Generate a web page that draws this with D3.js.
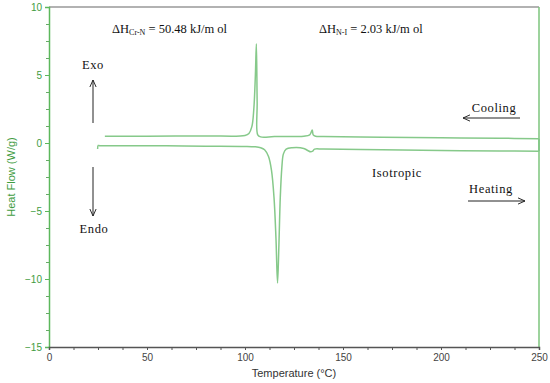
<!DOCTYPE html>
<html>
<head>
<meta charset="utf-8">
<script src="https://cdn.jsdelivr.net/npm/d3@7"></script>
<style>
  body { margin: 0; background: #fff; }
  svg text { font-family: "Liberation Sans", Arial, sans-serif; }
  .note { font-family: "Liberation Serif", "Times New Roman", serif; fill: #111; }
</style>
</head>
<body>
<svg width="550" height="383"></svg>
<script>
// heating run (25 -> 250 C)
const heatT = [24.8, 25.1, 26, 40, 60, 80, 100, 105, 108, 110, 112, 113.5, 114.8, 115.8, 116.6, 117.3, 118, 118.8, 119.6, 121, 124, 130, 132, 133.5, 134.5, 135.5, 140, 170, 200, 230, 250];
const heatQ = [-0.45, -0.18, -0.2, -0.2, -0.21, -0.23, -0.25, -0.28, -0.35, -0.5, -1.0, -2.0, -4.0, -7.0, -10.3, -7.5, -4.0, -1.8, -0.8, -0.45, -0.35, -0.4, -0.55, -0.65, -0.6, -0.45, -0.45, -0.5, -0.55, -0.58, -0.6];
// cooling run (250 -> 28 C)
const coolT = [250, 230, 200, 170, 140, 136, 134.8, 134.3, 133, 130, 115, 108, 106.5, 106.2, 105.8, 105.3, 104.5, 103.5, 102, 100, 80, 50, 28.5];
const coolQ = [0.32, 0.35, 0.38, 0.42, 0.48, 0.5, 0.6, 0.95, 0.6, 0.5, 0.47, 0.45, 0.6, 3.0, 7.3, 5.0, 2.5, 1.2, 0.7, 0.55, 0.52, 0.5, 0.49];

const xTicks = [0, 50, 100, 150, 200, 250];
const yTicks = [-15, -10, -5, 0, 5, 10];

const svg = d3.select("svg");
const m = { left: 49, right: 11, top: 7, bottom: 36 };
const W = 550, H = 383;

const x = d3.scaleLinear().domain([0, 250]).range([m.left, W - m.right]);
const y = d3.scaleLinear().domain([-15, 10]).range([H - m.bottom, m.top]);

const green = "#3f9c3f";
const traceColor = "#86c98a";

// frame: top grey, right green
svg.append("line").attr("x1", x(0)).attr("x2", x(250)).attr("y1", y(10)).attr("y2", y(10))
    .attr("stroke", "#999").attr("stroke-width", 1.5);
svg.append("line").attr("x1", x(250)).attr("x2", x(250)).attr("y1", y(10)).attr("y2", y(-15))
    .attr("stroke", "#7cc47c").attr("stroke-width", 1.5);

// y axis, major + minor ticks
const yAxis = svg.append("g").attr("transform", `translate(${x(0)},0)`)
    .call(d3.axisLeft(y).tickValues(yTicks).tickSize(4).tickPadding(3).tickFormat(d3.format("d")));
svg.append("g").attr("transform", `translate(${x(0)},0)`)
    .call(d3.axisLeft(y).tickValues(d3.range(-15, 10.01, 1.25).filter(v => v % 5 !== 0)).tickSize(3).tickFormat(""))
    .call(g => g.select(".domain").remove())
    .selectAll("line").attr("stroke", "#6a6");
yAxis.select(".domain").attr("stroke", "#5cb85c").attr("stroke-width", 1.5);
yAxis.selectAll("line").attr("stroke", "#5cb85c");
yAxis.selectAll("text").attr("fill", green).attr("font-size", 10);

// x axis
const xAxis = svg.append("g").attr("transform", `translate(0,${y(-15)})`)
    .call(d3.axisBottom(x).tickValues(xTicks).tickSize(3).tickPadding(4));
svg.append("g").attr("transform", `translate(0,${y(-15)})`)
    .call(d3.axisBottom(x).tickValues(d3.range(0, 250.01, 12.5).filter(v => v % 50 !== 0)).tickSize(3).tickFormat(""))
    .call(g => g.select(".domain").remove())
    .selectAll("line").attr("stroke", "#555");
xAxis.select(".domain").attr("stroke", "#555").attr("stroke-width", 1.5);
xAxis.selectAll("line").attr("stroke", "#555");
xAxis.selectAll("text").attr("fill", "#444").attr("font-size", 10);

svg.append("text").attr("x", x(125)).attr("y", 377).attr("text-anchor", "middle")
    .attr("font-size", 11).attr("fill", "#333").text("Temperature (°C)");
svg.append("text").attr("transform", `translate(15,${y(-2.5)}) rotate(-90)`).attr("text-anchor", "middle")
    .attr("font-size", 11).attr("fill", green).text("Heat Flow (W/g)");

// DSC traces
const curve = d3.line().x(d => x(d[0])).y(d => y(d[1])).curve(d3.curveCatmullRom.alpha(0.5));
svg.append("path").datum(heatT.map((t, i) => [t, heatQ[i]]))
    .attr("d", curve)
    .attr("fill", "none").attr("stroke", traceColor).attr("stroke-width", 1.5);
svg.append("path").datum(coolT.map((t, i) => [t, coolQ[i]]))
    .attr("d", curve)
    .attr("fill", "none").attr("stroke", traceColor).attr("stroke-width", 1.5);
// turn-around at 250 C joins heating to cooling
svg.append("line").attr("x1", x(250)).attr("x2", x(250))
    .attr("y1", y(coolQ[0])).attr("y2", y(heatQ[heatQ.length - 1]))
    .attr("stroke", traceColor).attr("stroke-width", 2);

// annotations
function dH(xp, yp, sub, rest) {
  const t = svg.append("text").attr("class", "note").attr("x", xp).attr("y", yp).attr("font-size", 12.5);
  t.append("tspan").text("ΔH");
  t.append("tspan").attr("font-size", 8).attr("dy", 2).text(sub);
  t.append("tspan").attr("dy", -2).text(rest);
}
dH(112, 33, "Cr-N", " = 50.48 kJ/m ol");
dH(319, 33, "N-I", " = 2.03 kJ/m ol");

svg.append("defs").append("marker").attr("id", "ah").attr("viewBox", "0 0 10 10")
    .attr("refX", 9).attr("refY", 5).attr("markerWidth", 8).attr("markerHeight", 8).attr("orient", "auto")
  .append("path").attr("d", "M0,1 L9,5 L0,9").attr("fill", "none").attr("stroke", "#222").attr("stroke-width", 1.2);

function arrow(x1, y1, x2, y2) {
  svg.append("line").attr("x1", x1).attr("y1", y1).attr("x2", x2).attr("y2", y2)
    .attr("stroke", "#222").attr("stroke-width", 1).attr("marker-end", "url(#ah)");
}
arrow(93, 123, 93, 80);
arrow(93, 167, 93, 216);
arrow(520, 118, 463, 118);
arrow(468, 201, 525, 201);

function note(xp, yp, s) {
  svg.append("text").attr("class", "note").attr("x", xp).attr("y", yp).attr("font-size", 12.5)
    .attr("text-anchor", "middle").attr("letter-spacing", 0.6).text(s);
}
note(93, 69, "Exo");
note(94, 233, "Endo");
note(494, 112, "Cooling");
note(491, 193, "Heating");
note(397, 177, "Isotropic");
</script>
</body>
</html>
